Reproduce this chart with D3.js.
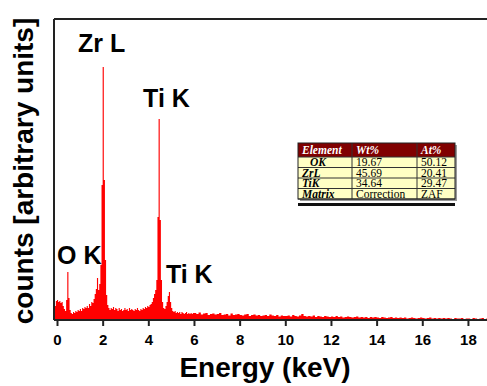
<!DOCTYPE html>
<html><head><meta charset="utf-8">
<script src="https://cdn.jsdelivr.net/npm/d3@7"></script>
<style>
html,body{margin:0;padding:0;background:#fff;}
svg{display:block;}
</style></head>
<body>
<svg id="chart" width="487" height="386"></svg>
<script>
// ---- data ----
// low-energy channels: start -0.10 keV, width 0.05 keV
const lowStart = -0.10, lowWidth = 0.05;
const countsLow = [
 140,190,200,180,190,170,180,140,110,90,
 200,480,220,100,70,60,80,70,90,80,
 100,90,110,90,120,110,130,120,140,120,
 160,140,180,170,210,260,310,420,300,360,
 550,1350,2530,1400,600,250,150,120,100,120,
 110,130,100,120,110,90,120,100,110,90,
 100,120,100,110,90,120,100,110,100,90,
 110,100,120,100,90,110,100,120,110,130,
 120,140,130,150,160,180,220,260,300,400,
 1030,2010,1000,400,180,120,110,140,180,240,
 280,180,120,90,80,90,70,80,70,80,
 60,80,70,60,70,80,60,70,60,70,
 60,70
];
// high-energy channels: start 6.0 keV, width 0.1 keV
const highStart = 6.0, highWidth = 0.1;
const countsHigh = [
 70,60,75,55,65,70,50,60,65,55,
 60,70,50,55,60,45,65,50,55,60,
 50,45,55,60,40,50,55,45,50,40,
 45,50,40,55,45,40,50,35,45,40,
 40,45,35,50,40,35,45,60,40,35,
 40,35,45,30,40,35,30,40,35,30,
 35,30,40,30,35,25,30,35,30,25,
 30,35,25,30,25,30,20,30,25,30,
 25,20,30,25,20,25,30,20,25,20,
 25,20,25,15,20,25,20,15,20,25,
 20,15,20,25,15,20,15,20,15,20,
 15,20,15,10,20,15,15,20,10,15,
 15,10,20,15,10,15,20,10,15,10,
 15,10,15,10,15,10,10,15,10,10
];
const xTicks = [0,2,4,6,8,10,12,14,16,18];
const peakLabels = [
 {text:"Zr L", e:0.92, c:2680},
 {text:"Ti K", e:3.77, c:2130},
 {text:"O K",  e:0.0,  c:560},
 {text:"Ti K", e:4.77, c:370}
];
const tableHeader = ["Element","Wt%","At%"];
const tableElements = ["OK","ZrL","TiK","Matrix"];
const tableWt = ["19.67","45.69","34.64","Correction"];
const tableAt = ["50.12","20.41","29.47","ZAF"];

(function(){
// ---- build spectrum ----
const spectrum = [];
countsLow.forEach((c,i)=>{
  const e = +(lowStart + i*lowWidth).toFixed(3);
  if (e < highStart) spectrum.push({e, c});
});
countsHigh.forEach((c,i)=>spectrum.push({e:+(highStart+i*highWidth).toFixed(3), c}));
spectrum.push({e:20, c:countsHigh[countsHigh.length-1]});

const svg = d3.select("#chart");
const pLeft = 54, pTop = 19, pBottom = 320;
const x = d3.scaleLinear().domain([0,20]).range([57, 57+22.83*20]);
const y = d3.scaleLinear().domain([0,3010]).range([pBottom, pTop]);

svg.append("defs").append("clipPath").attr("id","plotclip")
  .append("rect").attr("x",pLeft).attr("y",pTop).attr("width",600).attr("height",pBottom-pTop);

const area = d3.area().curve(d3.curveStepAfter)
  .x(d=>x(d.e)).y0(y(0)).y1(d=>y(d.c));
svg.append("path").datum(spectrum)
  .attr("clip-path","url(#plotclip)")
  .attr("fill","#ff0000").attr("stroke","none")
  .attr("d",area);

// frame
svg.append("line").attr("x1",pLeft).attr("x2",600).attr("y1",pTop).attr("y2",pTop)
  .attr("stroke","#222").attr("stroke-width",2);
svg.append("line").attr("x1",pLeft).attr("x2",pLeft).attr("y1",pTop).attr("y2",pBottom)
  .attr("stroke","#222").attr("stroke-width",2);

// x axis
const xAxis = d3.axisBottom(x).tickValues(xTicks).tickSize(6).tickSizeOuter(0).tickPadding(8)
  .tickFormat(d3.format("d"));
const gx = svg.append("g").attr("transform",`translate(0,${pBottom})`).call(xAxis);
gx.select(".domain").attr("d",`M${pLeft},0H600`).attr("stroke","#222").attr("stroke-width",2);
gx.selectAll(".tick line").attr("stroke","#222").attr("stroke-width",2);
gx.selectAll(".tick text").attr("fill","#000")
  .style("font-family","'Liberation Sans',Arial,sans-serif")
  .style("font-weight","bold").style("font-size","15px");

// axis titles
svg.append("text").attr("x",265).attr("y",377).attr("text-anchor","middle")
  .style("font-family","'Liberation Sans',Arial,sans-serif").style("font-weight","bold")
  .style("font-size","28px").text("Energy (keV)");
svg.append("text").attr("transform","translate(33,171) rotate(-90)").attr("text-anchor","middle")
  .style("font-family","'Liberation Sans',Arial,sans-serif").style("font-weight","bold")
  .style("font-size","28px").text("counts [arbitrary units]");

// peak labels
svg.selectAll("text.peak").data(peakLabels).join("text").attr("class","peak")
  .attr("x",d=>x(d.e)).attr("y",d=>y(d.c))
  .style("font-family","'Liberation Sans',Arial,sans-serif").style("font-weight","bold")
  .style("font-size","25px").text(d=>d.text);

// table
const tx = 298, ty = 143;
const colW = [54,65,38];
const colX = [tx, tx+colW[0], tx+colW[0]+colW[1]];
const headH = 14, rowH = 10.5;
const tw = colW[0]+colW[1]+colW[2];
const th = headH + rowH*tableElements.length;
const tg = svg.append("g");
tg.append("rect").attr("x",tx+2).attr("y",ty+2).attr("width",tw).attr("height",th).attr("fill","#999");
tg.append("rect").attr("x",tx).attr("y",ty+th+4).attr("width",tw).attr("height",3).attr("fill","#111");
tg.append("rect").attr("x",tx).attr("y",ty).attr("width",tw).attr("height",headH).attr("fill","#800000");
tg.append("rect").attr("x",tx).attr("y",ty+headH).attr("width",tw).attr("height",th-headH).attr("fill","#ffffc4");
const serif = "'Liberation Serif','Times New Roman',serif";
tableHeader.forEach((h,i)=>{
  tg.append("text").attr("x",colX[i]+4).attr("y",ty+11).attr("fill","#fff")
    .style("font-family",serif).style("font-style","italic").style("font-weight","bold")
    .style("font-size","11.5px").text(h);
});
const rows = tableElements.map((el,i)=>[el,tableWt[i],tableAt[i]]);
rows.forEach((r,ri)=>{
  const yy = ty+headH+rowH*(ri+1)-1.5;
  r.forEach((v,ci)=>{
    const t = tg.append("text").attr("x",colX[ci]+(ci===0?(ri===0?12:4):4)).attr("y",yy)
      .attr("fill","#000").style("font-family",serif).style("font-size","11.5px").text(v);
    if (ci===0) t.style("font-style","italic").style("font-weight","bold");
  });
});
for (let i=0;i<=tableElements.length;i++){
  const yy = ty+headH+rowH*i;
  tg.append("line").attr("x1",tx).attr("x2",tx+tw).attr("y1",yy).attr("y2",yy)
    .attr("stroke","#333").attr("stroke-width",1);
}
[colX[1],colX[2]].forEach(cx=>tg.append("line").attr("x1",cx).attr("x2",cx)
  .attr("y1",ty).attr("y2",ty+th).attr("stroke","#333").attr("stroke-width",1));
tg.append("rect").attr("x",tx).attr("y",ty).attr("width",tw).attr("height",th)
  .attr("fill","none").attr("stroke","#222").attr("stroke-width",1);
})();
</script>
</body></html>
